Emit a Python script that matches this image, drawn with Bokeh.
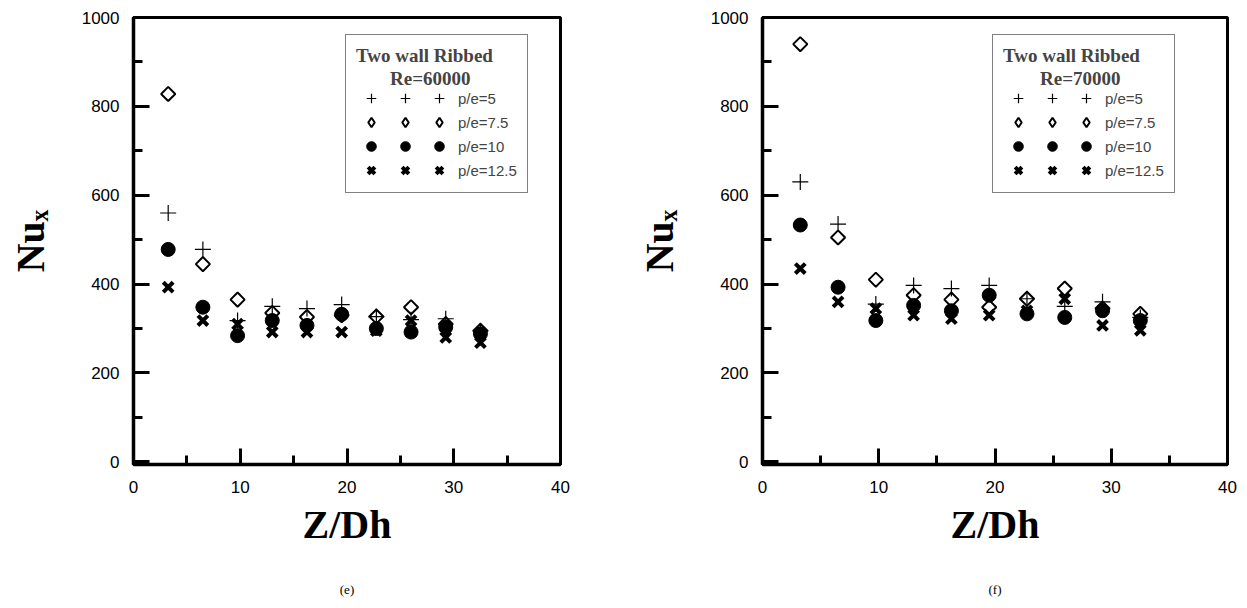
import math
from bokeh.plotting import figure
from bokeh.layouts import row
from bokeh.models import Legend, LegendItem, SingleIntervalTicker, LinearAxis, FixedTicker
from bokeh.embed import file_html
from bokeh.resources import INLINE

# ---- data ----
z_dh = [3.25, 6.5, 9.75, 13.0, 16.25, 19.5, 22.75, 26.0, 29.25, 32.5]
series_names = ["p/e=5", "p/e=7.5", "p/e=10", "p/e=12.5"]

e_pe5 = [560, 478, 318, 350, 345, 354, 327, 320, 322, 295]
e_pe75 = [828, 445, 365, 335, 326, 330, 327, 348, 310, 295]
e_pe10 = [478, 348, 284, 318, 307, 332, 300, 292, 303, 288]
e_pe125 = [393, 318, 310, 292, 292, 292, 295, 318, 280, 268]

f_pe5 = [630, 535, 355, 397, 390, 397, 367, 350, 360, 325]
f_pe75 = [940, 505, 410, 375, 365, 348, 367, 390, 345, 333]
f_pe10 = [533, 393, 318, 352, 340, 375, 333, 325, 340, 318]
f_pe125 = [435, 360, 345, 330, 322, 330, 340, 367, 307, 296]

x_ticks_interval = 10
y_ticks_interval = 200

SERIF = "Liberation Serif"
SANS = "Liberation Sans"


def make_panel(series, title_re, panel_tag, width, bl, br, leg_loc, re_loc):
    p = figure(width=width, height=600, x_range=(0, 40), y_range=(-6, 1000),
               output_backend="svg", toolbar_location=None,
               min_border_left=bl, min_border_right=br,
               min_border_top=17, min_border_bottom=136)
    p.xgrid.visible = False
    p.ygrid.visible = False
    p.outline_line_color = "black"
    p.outline_line_width = 3
    p.xaxis.ticker = SingleIntervalTicker(interval=x_ticks_interval, num_minor_ticks=2)
    p.yaxis.ticker = SingleIntervalTicker(interval=y_ticks_interval, num_minor_ticks=2)
    for ax in (p.xaxis[0], p.yaxis[0]):
        ax.axis_line_width = 3.5
        ax.axis_line_color = "black"
        ax.major_tick_line_width = 3
        ax.major_tick_line_color = "black"
        ax.minor_tick_line_width = 3
        ax.minor_tick_line_color = "black"
        ax.major_tick_in = 16
        ax.major_tick_out = 0
        ax.minor_tick_in = 9
        ax.minor_tick_out = 0
        ax.major_label_text_font = SANS
        ax.major_label_text_font_size = "17px"
        ax.major_label_text_color = "black"
    p.yaxis.major_label_standoff = 14
    p.xaxis.major_label_standoff = 16
    p.xaxis.axis_label = "Z/Dh"
    p.yaxis.axis_label = "Nu\u2093"
    for ax in (p.xaxis[0], p.yaxis[0]):
        ax.axis_label_text_font = SERIF
        ax.axis_label_text_font_size = "40px"
        ax.axis_label_text_font_style = "bold"
        ax.axis_label_text_color = "black"
    p.xaxis.axis_label_standoff = 6
    p.yaxis.axis_label_standoff = 26

    tag_axis = LinearAxis(ticker=FixedTicker(ticks=[]), axis_line_color=None,
                          major_tick_line_color=None, minor_tick_line_color=None,
                          axis_label=panel_tag, axis_label_text_font=SERIF,
                          axis_label_text_font_size="13px",
                          axis_label_text_font_style="normal",
                          axis_label_text_color="black", axis_label_standoff=32)
    p.add_layout(tag_axis, "below")

    r_plus = p.scatter(z_dh, series[0], marker="cross", size=16, line_color="black", line_width=1.2)
    r_dia = p.scatter(z_dh, series[1], marker="square", angle=math.pi / 4, size=10,
                      line_color="black", fill_color="white", fill_alpha=0, line_width=2)
    r_circ = p.scatter(z_dh, series[2], marker="circle", size=14, line_color="black",
                       fill_color="black")
    r_x = p.scatter(z_dh, series[3], marker="x", size=14, line_color="black", line_width=4)
    # zero-size twin of the diamond series, only used for the legend swatch
    r_dia_leg = p.scatter(z_dh, series[1], marker="diamond", size=0, line_color="black",
                          fill_color="white", fill_alpha=0, line_width=2)
    leg_rends = [r_plus, r_dia_leg, r_circ, r_x]

    items = []
    for col in range(3):
        for name, r in zip(series_names, leg_rends):
            items.append(LegendItem(label=name if col == 2 else "", renderers=[r]))
    leg = Legend(items=items, ncols=3, location=leg_loc,
                 title="Two wall Ribbed",
                 title_text_font=SERIF, title_text_font_style="bold",
                 title_text_font_size="19px",
                 title_standoff=19,
                 label_text_font=SANS, label_text_font_size="15px",
                 glyph_width=30, glyph_height=24, spacing=0,
                 label_standoff=4, label_width=0, padding=10,
                 border_line_color="black", border_line_width=1,
                 background_fill_color="white", background_fill_alpha=1)
    p.add_layout(leg, "center")

    # second title line of the key box
    r_empty = p.scatter([], [], marker="circle", size=0, line_alpha=0, fill_alpha=0)
    leg_re = Legend(items=[LegendItem(label="", renderers=[r_empty])], location=re_loc,
                    title=title_re, title_text_font=SERIF, title_text_font_style="bold",
                    title_text_font_size="19px", title_standoff=0,
                    glyph_width=1, glyph_height=1, label_height=0, label_width=0,
                    label_standoff=0, padding=0, spacing=0,
                    border_line_color=None, background_fill_alpha=0)
    p.add_layout(leg_re, "center")
    return p


p1 = make_panel([e_pe5, e_pe75, e_pe10, e_pe125], "Re=60000", "(e)",
                width=628, bl=133, br=68, leg_loc=(212, 271), re_loc=(257, 373))
p2 = make_panel([f_pe5, f_pe75, f_pe10, f_pe125], "Re=70000", "(f)",
                width=609, bl=134, br=10, leg_loc=(230, 271), re_loc=(278, 373))

layout = row(p1, p2)
open("out.html", "w").write(file_html(layout, INLINE))
